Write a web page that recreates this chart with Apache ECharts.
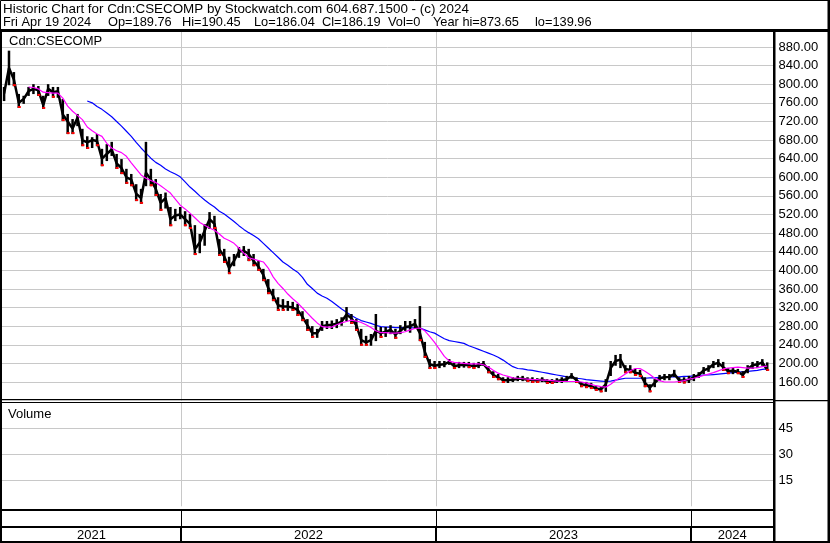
<!DOCTYPE html>
<html>
<head>
<meta charset="utf-8">
<script src="https://cdn.jsdelivr.net/npm/echarts@6/dist/echarts.min.js"></script>
<style>
html,body{margin:0;padding:0;background:#fff;}
#chart{width:830px;height:543px;}
</style>
</head>
<body>
<div id="chart"></div>
<script>
// ---------------- DATA ----------------
const firstWeek = Date.UTC(2021, 3, 23);   // Friday 2021-04-23, weekly bars
const axisStart = Date.UTC(2021, 3, 20);
const axisEnd = Date.UTC(2024, 3, 28);
const yearStarts = ['2022-01-01', '2023-01-01', '2024-01-01'];
const yearLabels = ['2021', '2022', '2023', '2024'];
const priceTicks = [160, 200, 240, 280, 320, 360, 400, 440, 480, 520, 560, 600, 640, 680, 720, 760, 800, 840, 880];
const volumeTicks = [15, 30, 45];
const titleLine1 = 'Historic Chart for Cdn:CSECOMP by Stockwatch.com 604.687.1500 - (c) 2024';
const titleFields = ['Fri Apr 19 2024', 'Op=189.76', 'Hi=190.45', 'Lo=186.04', 'Cl=186.19', 'Vol=0', 'Year hi=873.65', 'lo=139.96'];

const weekHigh = [792,870,824,777,773,792,798,794,773,798,792,792,766,734,723,734,702,686,684,691,
659,669,674,648,637,616,605,583,573,674,616,594,562,565,534,530,534,525,519,495,
476,497,523,515,465,444,427,433,448,450,444,433,418,401,379,358,340,336,332,330,
326,310,293,278,272,289,289,290,293,297,319,304,293,272,257,261,304,276,276,280,
272,280,289,289,293,321,244,207,203,203,203,207,199,201,201,201,199,201,203,192,
181,175,168,168,168,171,171,168,168,166,168,164,164,166,168,171,177,168,158,158,
156,149,147,164,203,216,218,194,194,186,184,168,153,164,173,175,175,184,168,168,
171,175,179,190,194,203,207,201,188,188,186,181,194,201,203,207,200];
const weekLow = [766,800,798,751,760,777,781,777,749,777,773,773,723,695,695,712,669,663,665,669,
626,637,648,620,609,588,583,551,545,583,583,562,530,535,497,508,512,497,491,435,
439,455,491,491,433,418,394,411,429,433,422,411,401,379,351,336,315,315,315,315,
304,293,272,257,257,272,276,276,278,283,293,287,272,240,240,240,250,257,259,265,
255,265,272,268,276,250,214,190,190,192,194,199,190,192,193,192,190,192,197,181,
171,166,160,160,162,164,164,162,160,160,162,158,158,160,160,162,169,160,151,149,
147,143,140,141,175,197,192,181,181,175,173,151,140,151,164,166,166,173,160,159,
160,164,171,179,184,192,194,186,179,179,179,171,181,190,192,197,186];
const weekClose = [780,835,810,760,768,785,790,787,755,790,783,785,735,720,705,728,680,675,680,678,
640,650,660,630,620,600,595,565,555,610,595,575,545,555,510,518,520,510,500,445,
460,485,510,500,445,430,405,420,440,442,435,420,408,390,362,345,325,322,322,320,
315,300,282,265,265,280,282,283,285,290,305,297,282,250,245,250,270,265,268,272,
262,270,278,280,285,265,225,198,195,197,198,203,194,196,197,196,194,196,199,186,
175,170,164,164,165,167,167,165,164,163,165,161,160,162,164,166,173,164,155,153,
151,146,144,155,190,205,208,188,186,180,178,158,148,158,168,170,171,177,164,163,
165,170,175,185,189,198,201,192,183,184,182,175,188,196,198,202,186.19];
const maShort = [null,null,null,null,null,794,793,790,783,782,781,781,770,753,742,733,724,708,700,693,
688,673,663,657,653,645,631,618,605,598,593,589,582,574,566,553,540,532,523,513,
503,497,491,486,478,469,464,458,448,437,427,424,421,418,405,386,372,361,349,339,
330,319,308,297,287,279,278,278,283,287,290,293,291,288,283,277,270,266,266,265,
265,266,268,272,275,276,270,258,245,230,215,205,202,201,200,199,199,199,197,192,
185,179,175,172,169,168,167,166,165,165,164,164,163,162,161,161,161,161,160,158,
155,152,150,149,155,163,170,177,184,189,189,183,176,168,163,160,160,160,161,163,
166,168,171,174,177,180,184,188,190,191,192,191,190,190,191,193,194];
const maLong = [null,null,null,null,null,null,null,null,null,null,null,null,null,null,null,null,null,764,760,752,
746,738,730,720,710,699,688,675,663,652,641,632,626,618,612,607,601,590,579,570,
560,551,543,536,527,521,513,505,496,488,481,475,468,458,448,438,428,418,411,403,
396,385,370,361,351,345,340,333,325,317,310,303,297,292,289,286,282,279,278,278,
277,277,277,277,276,276,272,268,265,259,253,249,247,245,243,238,234,230,226,222,
218,213,207,200,193,189,188,186,185,183,181,179,177,175,173,171,170,168,167,165,
164,163,162,161,162,164,166,168,168,168,168,168,169,169,170,170,171,171,171,172,
172,173,174,175,175,176,177,178,179,180,181,182,183,184,185,187,188];

// ---------------- BUILD ----------------
const DAY = 864e5;
const weekDates = weekHigh.map((_, i) => firstWeek + i * 7 * DAY);
const toTs = s => { const p = s.split('-').map(Number); return Date.UTC(p[0], p[1] - 1, p[2]); };
const yearTs = yearStarts.map(toTs);
const spanEdges = [axisStart].concat(yearTs, [axisEnd]);
const yearSpans = yearLabels.map((l, i) => [spanEdges[i], spanEdges[i + 1], l]);

const FONT = '"Liberation Sans", Arial, sans-serif';
const TFONT = '13.4px ' + FONT;
const T2FONT = '12.8px ' + FONT;
const barData = weekDates.map((d, i) => [d, weekLow[i], weekHigh[i], weekClose[i]]);
const closeData = weekDates.map((d, i) => [d, weekClose[i]]);
const shortData = weekDates.map((d, i) => [d, maShort[i]]);
const longData = weekDates.map((d, i) => [d, maLong[i]]);
const redData = weekDates.map((d, i) => [d, weekLow[i], (i > 0 && weekClose[i] < weekClose[i - 1]) ? 1 : 0]).filter(r => r[2] === 1);

function vline(color, width) {
  return function (params, api) {
    const x = Math.round(api.coord([api.value(0), 0])[0]) + (width % 2 ? 0.5 : 0);
    const cs = params.coordSys;
    return { type: 'line', shape: { x1: x, y1: cs.y, x2: x, y2: cs.y + cs.height },
      style: { stroke: color, lineWidth: width } };
  };
}

const chart = echarts.init(document.getElementById('chart'), null, { renderer: 'canvas' });
const xAx = i => ({ type: 'time', gridIndex: i, min: axisStart, max: axisEnd, show: false });

const fieldX = [3, 108, 182, 254, 322, 388, 433, 535];
const titleGraphics = [
  { type: 'text', x: 3, y: 9, style: { text: titleLine1, font: TFONT, fill: '#000', verticalAlign: 'middle' }, z: 101 }
].concat(titleFields.map((t, i) => ({ type: 'text', x: fieldX[i], y: 22,
  style: { text: t, font: T2FONT, fill: '#000', verticalAlign: 'middle' }, z: 101 })));

chart.setOption({
  animation: false,
  backgroundColor: '#fff',
  grid: [
    { left: 2, top: 28.4, width: 771.5, height: 372.2 },
    { left: 2, top: 402.3, width: 771.5, height: 104 },
    { left: 2, top: 510, width: 771.5, height: 16 },
    { left: 2, top: 527, width: 771.5, height: 14 }
  ],
  xAxis: [xAx(0), xAx(1), xAx(2), xAx(3)],
  yAxis: [
    { type: 'value', gridIndex: 0, min: 120, max: 920, interval: 40, position: 'right',
      axisLine: { show: false }, axisTick: { show: false },
      axisLabel: { margin: 5, color: '#000', fontFamily: FONT, fontSize: 13,
        formatter: v => priceTicks.indexOf(v) >= 0 ? v.toFixed(2) : '' },
      splitLine: { show: true, showMinLine: false, showMaxLine: false, lineStyle: { color: '#c8c8c8', width: 1 } } },
    { type: 'value', gridIndex: 1, min: 0, max: 60, interval: 15, position: 'right',
      axisLine: { show: false }, axisTick: { show: false },
      axisLabel: { margin: 5, color: '#000', fontFamily: FONT, fontSize: 13,
        formatter: v => volumeTicks.indexOf(v) >= 0 ? String(v) : '' },
      splitLine: { show: true, showMinLine: false, showMaxLine: false, lineStyle: { color: '#c8c8c8', width: 1 } } },
    { type: 'value', gridIndex: 2, min: 0, max: 1, show: false },
    { type: 'value', gridIndex: 3, min: 0, max: 1, show: false }
  ],
  series: [
    { type: 'custom', xAxisIndex: 0, yAxisIndex: 0, data: yearTs.map(t => [t]), renderItem: vline('#c8c8c8', 1), silent: true, z: 1 },
    { type: 'custom', xAxisIndex: 1, yAxisIndex: 1, data: yearTs.map(t => [t]), renderItem: vline('#c8c8c8', 1), silent: true, z: 1 },
    { type: 'custom', xAxisIndex: 2, yAxisIndex: 2, data: yearTs.map(t => [t]), renderItem: vline('#000', 1), silent: true, z: 1 },
    { type: 'custom', xAxisIndex: 3, yAxisIndex: 3, data: yearTs.map(t => [t]), renderItem: vline('#000', 2), silent: true, z: 1 },
    { type: 'custom', xAxisIndex: 3, yAxisIndex: 3, data: yearSpans, silent: true, z: 3,
      renderItem: function (params, api) {
        const cs = params.coordSys;
        const a = Math.max(api.coord([api.value(0), 0])[0], cs.x);
        const b = Math.min(api.coord([api.value(1), 0])[0], cs.x + cs.width);
        return { type: 'text', style: { text: yearSpans[params.dataIndex][2], x: (a + b) / 2, y: cs.y + cs.height / 2 + 1,
          align: 'center', verticalAlign: 'middle', font: '13px ' + FONT, fill: '#000' } };
      } },
    { type: 'line', xAxisIndex: 0, yAxisIndex: 0, data: longData, showSymbol: false, connectNulls: false,
      lineStyle: { color: '#0000ff', width: 1.2 }, silent: true, z: 2 },
    { type: 'custom', xAxisIndex: 0, yAxisIndex: 0, data: barData, silent: true, z: 3,
      renderItem: function (params, api) {
        const lo = api.coord([api.value(0), api.value(1)]);
        const hi = api.coord([api.value(0), api.value(2)]);
        return { type: 'line', shape: { x1: lo[0], y1: lo[1] + 1, x2: hi[0], y2: hi[1] - 1 },
          style: { stroke: '#000', lineWidth: 2.5 } };
      } },
    { type: 'line', xAxisIndex: 0, yAxisIndex: 0, data: closeData, showSymbol: false,
      lineStyle: { color: '#000', width: 2.5 }, silent: true, z: 3 },
    { type: 'custom', xAxisIndex: 0, yAxisIndex: 0, data: redData, silent: true, z: 4,
      renderItem: function (params, api) {
        const p = api.coord([api.value(0), api.value(1)]);
        return { type: 'rect', shape: { x: p[0] - 1, y: p[1] - 1, width: 3, height: 2 }, style: { fill: '#ff0000' } };
      } },
    { type: 'line', xAxisIndex: 0, yAxisIndex: 0, data: shortData, showSymbol: false, connectNulls: false,
      lineStyle: { color: '#ff00ff', width: 1.2 }, silent: true, z: 5 }
  ],
  graphic: [
    { type: 'rect', shape: { x: 0, y: 0, width: 830, height: 31 }, style: { fill: '#fff' }, z: 100, silent: true },
    { type: 'text', x: 9, y: 41, style: { text: 'Cdn:CSECOMP', font: '13px ' + FONT, fill: '#000', verticalAlign: 'middle' }, z: 101 },
    { type: 'text', x: 8, y: 414, style: { text: 'Volume', font: '13px ' + FONT, fill: '#000', verticalAlign: 'middle' }, z: 101 },
    // frame lines
    { type: 'rect', shape: { x: 0.5, y: 0.5, width: 828.5, height: 541.5 }, style: { fill: null, stroke: '#000', lineWidth: 1 }, z: 102, silent: true },
    { type: 'rect', shape: { x: 0, y: 29, width: 830, height: 3 }, style: { fill: '#000' }, z: 102, silent: true },
    { type: 'rect', shape: { x: 0, y: 29, width: 2, height: 514 }, style: { fill: '#000' }, z: 102, silent: true },
    { type: 'rect', shape: { x: 773, y: 29, width: 2.5, height: 514 }, style: { fill: '#000' }, z: 102, silent: true },
    { type: 'rect', shape: { x: 827.5, y: 0, width: 2.5, height: 543 }, style: { fill: '#000' }, z: 102, silent: true },
    { type: 'rect', shape: { x: 0, y: 399, width: 773, height: 1.3 }, style: { fill: '#000' }, z: 102, silent: true },
    { type: 'rect', shape: { x: 0, y: 402, width: 773, height: 1 }, style: { fill: '#000' }, z: 102, silent: true },
    { type: 'rect', shape: { x: 775, y: 400, width: 53, height: 1.3 }, style: { fill: '#000' }, z: 102, silent: true },
    { type: 'rect', shape: { x: 0, y: 509, width: 773, height: 2 }, style: { fill: '#000' }, z: 102, silent: true },
    { type: 'rect', shape: { x: 0, y: 526, width: 773, height: 2 }, style: { fill: '#000' }, z: 102, silent: true },
    { type: 'rect', shape: { x: 0, y: 541, width: 830, height: 2 }, style: { fill: '#000' }, z: 102, silent: true }
  ].concat(titleGraphics)
});
</script>
</body>
</html>
